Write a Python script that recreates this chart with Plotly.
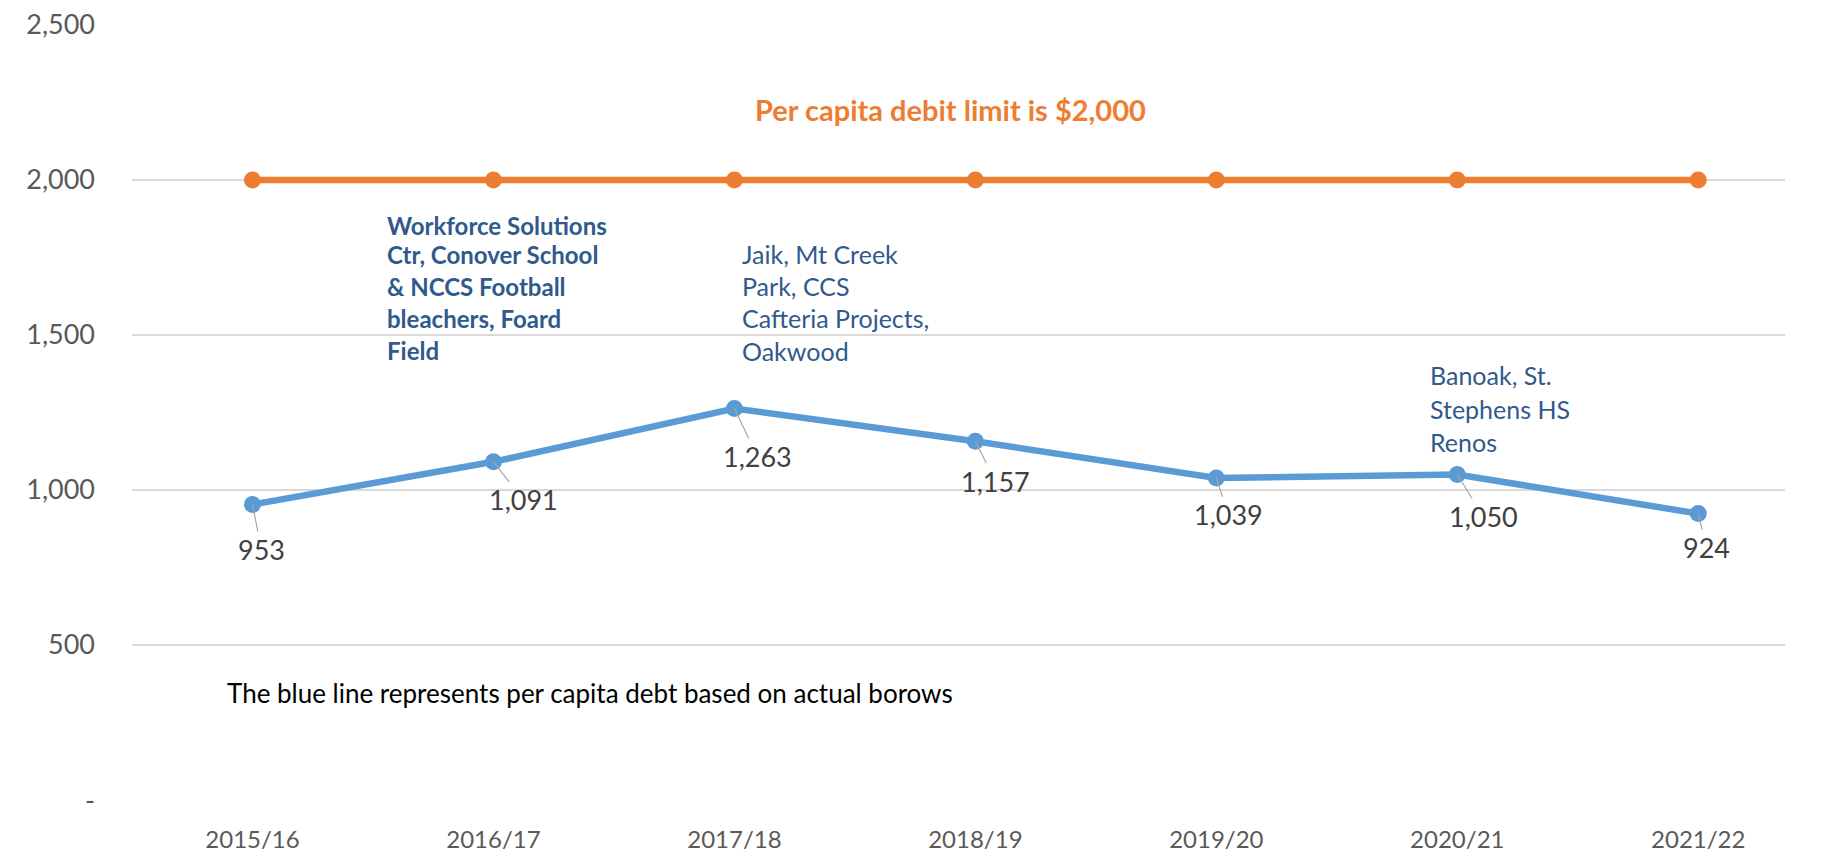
import plotly.graph_objects as go

categories = ["2015/16", "2016/17", "2017/18", "2018/19", "2019/20", "2020/21", "2021/22"]
per_capita_debt = [953, 1091, 1263, 1157, 1039, 1050, 924]
debt_limit = [2000, 2000, 2000, 2000, 2000, 2000, 2000]
y_tickvals = [0, 500, 1000, 1500, 2000, 2500]
y_ticktext = ["-", "500", "1,000", "1,500", "2,000", "2,500"]

# label offsets in pixels (ax, ay) for the blue data labels
label_offsets = [(9, 45), (30, 38), (23, 48), (20, 40), (12, 37), (26, 42), (8, 34)]

W, H = 1839, 852
L, R, T, B = 132, 54, 24, 51
PW, PH = W - L - R, H - T - B


def px(xp):
    return (xp - L) / PW


def py(yp):
    return (H - B - yp) / PH


FONT = "Lato"
BLUE_TXT = "#2F5A8C"

fig = go.Figure()
fig.add_trace(go.Scatter(
    x=categories, y=debt_limit, mode="lines+markers",
    line=dict(color="#ED7D31", width=6.5),
    marker=dict(color="#ED7D31", size=17),
    showlegend=False, hoverinfo="skip"))
fig.add_trace(go.Scatter(
    x=categories, y=per_capita_debt, mode="lines+markers",
    line=dict(color="#5B9BD5", width=6.5),
    marker=dict(color="#5B9BD5", size=17),
    showlegend=False, hoverinfo="skip"))

annotations = []
for c, v, (ax, ay) in zip(categories, per_capita_debt, label_offsets):
    annotations.append(dict(
        x=c, y=v, xref="x", yref="y", text=f"{v:,}", showarrow=True,
        arrowhead=0, arrowwidth=1.2, arrowcolor="#A6A6A6", ax=ax, ay=ay,
        font=dict(family=FONT, size=27, color="#404040")))

notes = [
    (385, [225, 255, 286, 318, 350], ["Workforce Solutions", "Ctr, Conover School", "& NCCS Football", "bleachers, Foard", "Field"], True, 24),
    (740, [254, 286, 318, 351], ["Jaik, Mt Creek", "Park, CCS", "Cafteria Projects,", "Oakwood"], False, 25),
    (1428, [375, 409, 442], ["Banoak, St.", "Stephens HS", "Renos"], False, 25),
]
for x0, ys, lines, bold, fs in notes:
    for yy, t in zip(ys, lines):
        annotations.append(dict(
            x=px(x0), y=py(yy), xref="paper", yref="paper", xanchor="left", yanchor="middle",
            text=f"<b>{t}</b>" if bold else t, showarrow=False,
            font=dict(family=FONT, size=fs, color=BLUE_TXT)))

annotations.append(dict(
    x=px(950), y=py(109), xref="paper", yref="paper", xanchor="center", yanchor="middle",
    text="<b>Per capita debit limit is $2,000</b>", showarrow=False,
    font=dict(family=FONT, size=29, color="#ED7D31")))
annotations.append(dict(
    x=px(225), y=py(693), xref="paper", yref="paper", xanchor="left", yanchor="middle",
    text="The blue line represents per capita debt based on actual borows", showarrow=False,
    font=dict(family=FONT, size=26, color="#000000")))

shapes = [
    dict(type="rect", xref="paper", yref="paper", x0=px(359), x1=px(645), y0=py(205), y1=py(372),
         fillcolor="white", line=dict(width=0), layer="between"),
    dict(type="rect", xref="paper", yref="paper", x0=px(715), x1=px(965), y0=py(232), y1=py(372),
         fillcolor="white", line=dict(width=0), layer="between"),
]

fig.update_layout(
    width=W, height=H,
    margin=dict(l=L, r=R, t=T, b=B, autoexpand=False),
    paper_bgcolor="white", plot_bgcolor="white",
    font=dict(family=FONT, color="#595959"),
    annotations=annotations, shapes=shapes,
    xaxis=dict(range=[-0.5, 6.36], showgrid=False, zeroline=False, showline=False, automargin=False,
               tickfont=dict(size=24, color="#595959"), ticks="", ticklabelstandoff=22),
    yaxis=dict(range=[-3, 2503], tickvals=y_tickvals, ticktext=y_ticktext, automargin=False,
               showgrid=True, gridcolor="#D9D9D9", gridwidth=1.5, zeroline=False, showline=False,
               tickfont=dict(size=27, color="#595959"), ticks="", ticklabelstandoff=36),
)

fig.write_html("out.html", config={"displayModeBar": False},
               post_script="document.body.style.margin='0px';")
